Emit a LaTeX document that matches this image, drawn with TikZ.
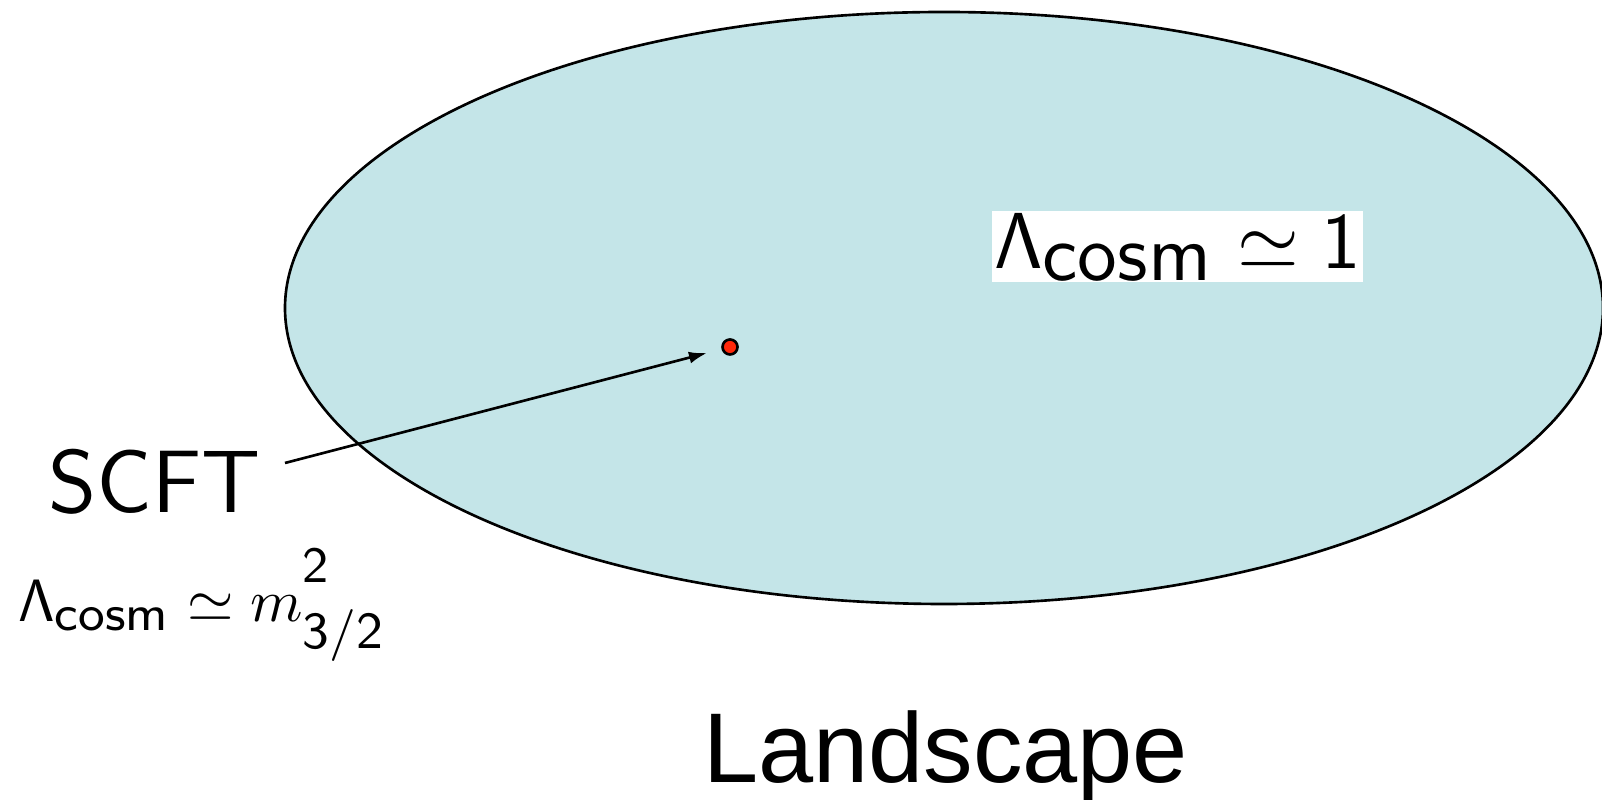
\documentclass[tikz,border=0pt]{standalone}
\usepackage[no-math]{fontspec}
\usepackage{amsmath, amssymb}
\usetikzlibrary{arrows.meta,positioning,calc}
\newfontfamily\arialfont{Liberation Sans}
\definecolor{bleuPaysage}{RGB}{196,229,232}
\definecolor{rougePoint}{RGB}{255,40,10}
% texte sans serif a une taille donnee, dans une formule
\newcommand{\tsf}[2]{\text{\fontsize{#1}{#1}\selectfont\sffamily #2}}

\begin{document}
\begin{tikzpicture}[
  etiquette/.style={inner sep=0pt, anchor=base west, transform shape},
  point/.style={circle, draw=black, line width=0.75pt, fill=rougePoint,
                minimum size=0.15cm, inner sep=0pt},
  fleche/.style={-{Latex[length=0.18cm,width=0.12cm]}, line width=0.75pt,
                 shorten >=0.15cm}]
  \useasboundingbox (0,0) rectangle (16.02,8);

  \draw[line width=0.75pt, fill=bleuPaysage] (9.44,4.92)
    ellipse [x radius=6.59, y radius=2.96];

  \node[fill=white, inner sep=0.3pt, scale=2.26, transform shape]
    (grand) at (11.775,5.535)
    {$\mathsf{\Lambda}_{\textstyle\mathsf{cosm}}\simeq\mathsf{1}$};

  \node[point] (sol) at (7.30,4.53) {};

  \node[etiquette, scale=2.1, font=\sffamily\fontsize{12}{14}\selectfont]
    (scft) at (0.47,2.87) {SCFT};
  \node[etiquette, scale=1.70]
    (petit) at (0.17,1.78)
    {$\mathsf{\Lambda}_{\tsf{8.4}{cosm}}\simeq
      m^{\raisebox{3pt}{\tsf{8.5}{2}}}_{\tsf{8.7}{3/2}}$};

  \node[inner sep=0pt, anchor=base, font=\arialfont\fontsize{28.2}{34}\selectfont]
    (paysage) at (9.455,0.17) {Landscape};

  \draw[fleche] ([shift={(2.38,0.5)}]scft.base west) -- (sol);
\end{tikzpicture}
\end{document}
